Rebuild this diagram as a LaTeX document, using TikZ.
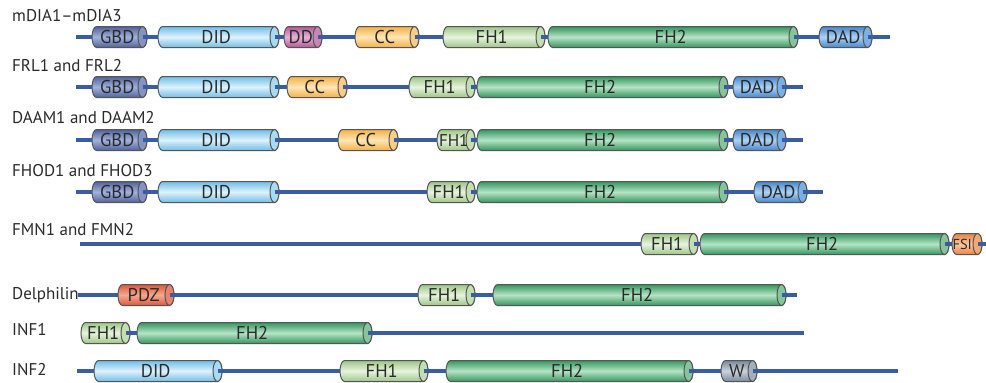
\documentclass[tikz,border=0pt]{standalone}
\usepackage{fontspec}
\setmainfont{PT Sans}
\usetikzlibrary{calc}

% domain colours: edge tone, highlight tone, end-cap tone
\definecolor{gbd-dk}{HTML}{50629A}\definecolor{gbd-lt}{HTML}{A3B2DC}\definecolor{gbd-cap}{HTML}{8593C4}
\definecolor{did-dk}{HTML}{72BCE6}\definecolor{did-lt}{HTML}{DDF2FC}\definecolor{did-cap}{HTML}{A8DAF2}
\definecolor{dd-dk}{HTML}{B0589A}\definecolor{dd-lt}{HTML}{E6B4D6}\definecolor{dd-cap}{HTML}{C985B6}
\definecolor{cc-dk}{HTML}{F2B04A}\definecolor{cc-lt}{HTML}{FEE6B6}\definecolor{cc-cap}{HTML}{F8CD85}
\definecolor{fha-dk}{HTML}{9CC686}\definecolor{fha-lt}{HTML}{E8F3DF}\definecolor{fha-cap}{HTML}{C3DFB1}
\definecolor{fhb-dk}{HTML}{34955E}\definecolor{fhb-lt}{HTML}{B6E3C5}\definecolor{fhb-cap}{HTML}{86C49C}
\definecolor{dad-dk}{HTML}{4686CA}\definecolor{dad-lt}{HTML}{AED2F2}\definecolor{dad-cap}{HTML}{7BB0E4}
\definecolor{fsi-dk}{HTML}{E68444}\definecolor{fsi-lt}{HTML}{FAC7A0}\definecolor{fsi-cap}{HTML}{F2A872}
\definecolor{pdz-dk}{HTML}{D8583C}\definecolor{pdz-lt}{HTML}{F5A890}\definecolor{pdz-cap}{HTML}{E8826A}
\definecolor{w-dk}{HTML}{78889A}\definecolor{w-lt}{HTML}{CBD3DC}\definecolor{w-cap}{HTML}{A2AFBE}
\definecolor{chain}{HTML}{3A5CA0}
\definecolor{outl}{HTML}{555555}
\definecolor{txt}{HTML}{2A2A2A}

\tikzset{
  backbone/.style={draw=chain, line width=3.2pt},
  rowlabel/.style={anchor=west, text=txt, font=\fontsize{17}{19}\selectfont, inner sep=0pt},
  domlabel/.style={text=txt, font=\fontsize{18.5}{20}\selectfont, inner sep=0pt},
  domedge/.style={draw=outl, line width=1pt},
}

% \dom[label offset]{name}{left x}{right x}{centre y}{colour key}{text}
% draws a horizontal cylinder; defines (name-w) at its left end and (name-e) at the centre of its end cap
\newcommand\dom[7][0]{%
  \path[domedge, top color=#6-dk, bottom color=#6-dk, middle color=#6-lt]
    (#3+4.5,#5-10.5) -- (#4-4.5,#5-10.5)
    arc[start angle=90, end angle=-90, x radius=4.5pt, y radius=10.5pt]
    -- (#3+4.5,#5+10.5)
    arc[start angle=270, end angle=90, x radius=4.5pt, y radius=10.5pt] -- cycle;
  \path[domedge, fill=#6-cap] (#4-4.5,#5) ellipse [x radius=4.5pt, y radius=10.5pt];
  \node[domlabel] (#2) at ({(#3+#4-4.5)/2+#1},#5) {#7};
  \coordinate (#2-w) at (#3,#5);
  \coordinate (#2-e) at (#4-4.5,#5);
}

\begin{document}
\begin{tikzpicture}[x=1pt, y=-1pt]
\useasboundingbox (0,0) rectangle (986,383);

% ---- mDIA1-mDIA3
\node[rowlabel] (la) at (12,16) {mDIA1–mDIA3};
\coordinate (a0) at (76,37); \coordinate (a9) at (890,37);
\dom{a1}{92}{147}{37}{gbd}{GBD}
\dom{a2}{158}{279}{37}{did}{DID}
\dom{a3}{284}{322}{37}{dd}{DD}
\dom{a4}{355}{419}{37}{cc}{CC}
\dom{a5}{443}{545}{37}{fha}{FH1}
\dom{a6}{548}{798}{37}{fhb}{FH2}
\dom{a7}{819}{872}{37}{dad}{DAD}
\draw[backbone] (a0) -- (a1-w) (a1-e) -- (a2-w) (a2-e) -- (a3-w) (a3-e) -- (a4-w)
  (a4-e) -- (a5-w) (a5-e) -- (a6-w) (a6-e) -- (a7-w) (a7-e) -- (a9);

% ---- FRL1 and FRL2
\node[rowlabel] (lb) at (12,66) {FRL1 and FRL2};
\coordinate (b0) at (76,87); \coordinate (b9) at (803,87);
\dom{b1}{92}{147}{87}{gbd}{GBD}
\dom{b2}{158}{279}{87}{did}{DID}
\dom{b3}{287}{347}{87}{cc}{CC}
\dom{b4}{409}{475}{87}{fha}{FH1}
\dom{b5}{477}{728}{87}{fhb}{FH2}
\dom{b6}{733}{786}{87}{dad}{DAD}
\draw[backbone] (b0) -- (b1-w) (b1-e) -- (b2-w) (b2-e) -- (b3-w) (b3-e) -- (b4-w)
  (b4-e) -- (b5-w) (b5-e) -- (b6-w) (b6-e) -- (b9);

% ---- DAAM1 and DAAM2
\node[rowlabel] (lc) at (12,118) {DAAM1 and DAAM2};
\coordinate (c0) at (76,140); \coordinate (c9) at (803,140);
\dom{c1}{92}{147}{140}{gbd}{GBD}
\dom{c2}{158}{279}{140}{did}{DID}
\dom{c3}{338}{398}{140}{cc}{CC}
\dom{c4}{437}{475}{140}{fha}{\fontsize{17}{18}\selectfont FH1}
\dom{c5}{477}{728}{140}{fhb}{FH2}
\dom{c6}{733}{786}{140}{dad}{DAD}
\draw[backbone] (c0) -- (c1-w) (c1-e) -- (c2-w) (c2-e) -- (c3-w) (c3-e) -- (c4-w)
  (c4-e) -- (c5-w) (c5-e) -- (c6-w) (c6-e) -- (c9);

% ---- FHOD1 and FHOD3
\node[rowlabel] (ld) at (12,171) {FHOD1 and FHOD3};
\coordinate (d0) at (76,192); \coordinate (d9) at (823,192);
\dom{d1}{92}{147}{192}{gbd}{GBD}
\dom{d2}{158}{279}{192}{did}{DID}
\dom{d3}{427}{475}{192}{fha}{FH1}
\dom{d4}{477}{728}{192}{fhb}{FH2}
\dom{d5}{754}{807}{192}{dad}{DAD}
\draw[backbone] (d0) -- (d1-w) (d1-e) -- (d2-w) (d2-e) -- (d3-w)
  (d3-e) -- (d4-w) (d4-e) -- (d5-w) (d5-e) -- (d9);

% ---- FMN1 and FMN2
\node[rowlabel] (le) at (12,230) {FMN1 and FMN2};
\coordinate (e0) at (80,244); \coordinate (e9) at (986,244);
\dom{e1}{641}{698}{244}{fha}{FH1}
\dom{e2}{700}{949}{244}{fhb}{FH2}
\dom[-2.5]{e3}{952}{982}{244}{fsi}{\fontsize{14.5}{15}\selectfont FSI}
\draw[backbone] (e0) -- (e1-w) (e1-e) -- (e2-w) (e2-e) -- (e3-w) (e3-e) -- (e9);

% ---- Delphilin
\node[rowlabel] (lf) at (12,295) {Delphilin};
\coordinate (f0) at (78,295); \coordinate (f9) at (797,295);
\dom{f1}{118}{174}{295}{pdz}{PDZ}
\dom{f2}{418}{475}{295}{fha}{FH1}
\dom{f3}{493}{786}{295}{fhb}{FH2}
\draw[backbone] (f0) -- (f1-w) (f1-e) -- (f2-w) (f2-e) -- (f3-w) (f3-e) -- (f9);

% ---- INF1
\node[rowlabel] (lg) at (12,330) {INF1};
\coordinate (g9) at (804,333);
\dom{g1}{81}{130}{333}{fha}{FH1}
\dom{g2}{137}{372}{333}{fhb}{FH2}
\draw[backbone] (g1-e) -- (g2-w) (g2-e) -- (g9);

% ---- INF2
\node[rowlabel] (lh) at (12,370) {INF2};
\coordinate (h0) at (77,371); \coordinate (h9) at (898,371);
\dom{h1}{94}{222}{371}{did}{DID}
\dom{h2}{340}{428}{371}{fha}{FH1}
\dom{h3}{446}{693}{371}{fhb}{FH2}
\dom{h4}{721}{757}{371}{w}{W}
\draw[backbone] (h0) -- (h1-w) (h1-e) -- (h2-w) (h2-e) -- (h3-w)
  (h3-e) -- (h4-w) (h4-e) -- (h9);
\end{tikzpicture}
\end{document}
